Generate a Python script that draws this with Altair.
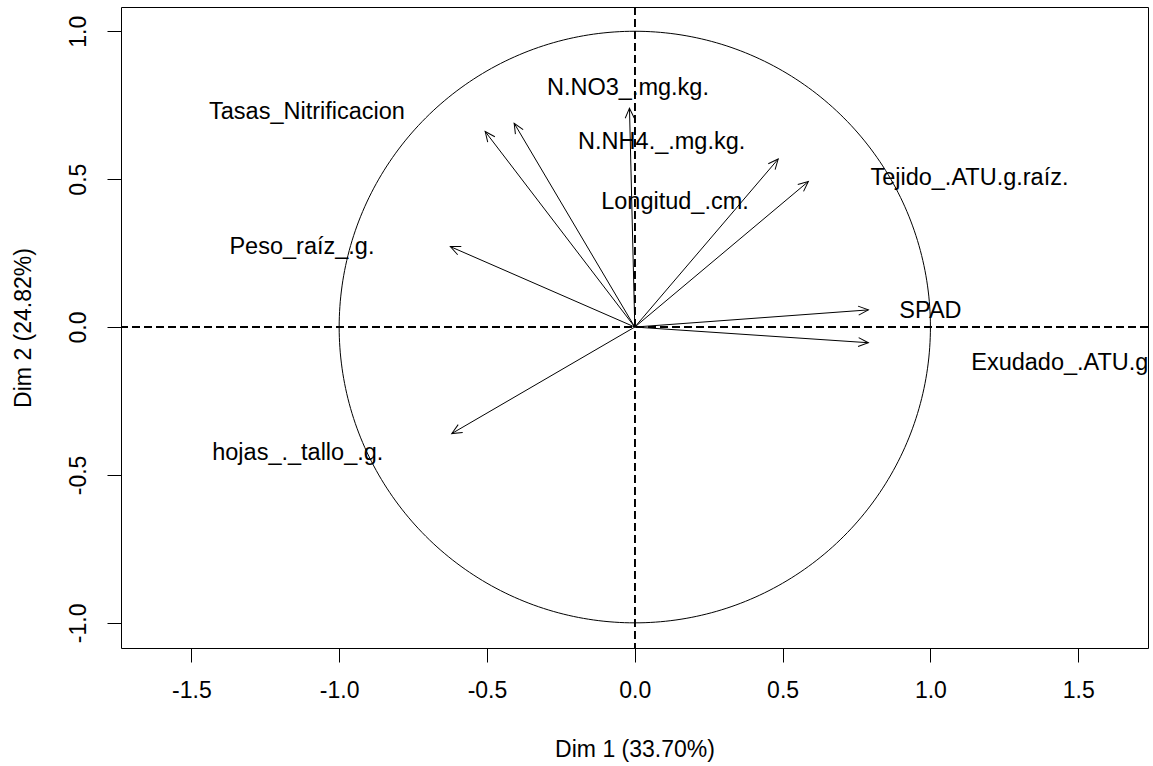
import altair as alt
import pandas as pd
import numpy as np

# ---- data (PCA variable coordinates) ----
variables = ["N.NO3_.mg.kg.", "Tasas_Nitrificacion", "N.NH4._.mg.kg.", "Longitud_.cm.",
             "Tejido_.ATU.g.raíz.", "SPAD", "Exudado_.ATU.g", "Peso_raíz_.g.", "hojas_._tallo_.g."]
dim1 = [-0.018, -0.506, -0.408, 0.485, 0.587, 0.790, 0.790, -0.624, -0.619]
dim2 = [0.740, 0.661, 0.689, 0.568, 0.492, 0.058, -0.053, 0.272, -0.360]
label_x = [-0.023, -1.109, 0.091, 0.136, 1.132, 1.000, 1.138, -1.126, -1.140]
label_y = [0.809, 0.728, 0.626, 0.423, 0.504, 0.055, -0.120, 0.271, -0.426]
label_left = [False, False, False, False, False, False, True, False, False]

x_ticks = [-1.5, -1.0, -0.5, 0.0, 0.5, 1.0, 1.5]
y_ticks = [-1.0, -0.5, 0.0, 0.5, 1.0]
x_title = "Dim 1 (33.70%)"
y_title = "Dim 2 (24.82%)"

XDOM = [-1.738, 1.736]
YDOM = [-1.085, 1.082]
W, H = 1027, 641
FONT = "Liberation Sans"
FS = 23
LFS = 23.5

sx = W / (XDOM[1] - XDOM[0])
sy = H / (YDOM[1] - YDOM[0])

df = pd.DataFrame({"var": variables, "x": dim1, "y": dim2,
                   "lx": label_x, "ly": label_y, "left": label_left})
df["ox"] = 0.0
df["oy"] = 0.0
df["ang"] = (np.degrees(np.arctan2(-df["y"] * sy, df["x"] * sx)) + 360) % 360

t = np.linspace(0, 2 * np.pi, 361)
circle = pd.DataFrame({"cx": np.cos(t), "cy": np.sin(t), "i": np.arange(len(t))})

xs = alt.Scale(domain=XDOM, nice=False, zero=False)
ys = alt.Scale(domain=YDOM, nice=False, zero=False)

label_expr = "replace(format(datum.value, '.1f'), '\u2212', '-')"

x_axis = alt.Axis(values=x_ticks, labelExpr=label_expr, title=x_title, grid=False, domain=False,
                  tickSize=14, tickColor="black", tickWidth=1, labelPadding=17,
                  labelFont=FONT, labelFontSize=FS, labelColor="black",
                  titleFont=FONT, titleFontSize=FS, titleFontWeight="normal", titleColor="black",
                  titleY=101, titleBaseline="middle")
y_axis = alt.Axis(values=y_ticks, labelExpr=label_expr, title=y_title, grid=False, domain=False,
                  tickSize=14, tickColor="black", tickWidth=1, labelPadding=17,
                  labelAngle=-90, labelAlign="center", labelBaseline="bottom",
                  labelFont=FONT, labelFontSize=FS, labelColor="black",
                  titleFont=FONT, titleFontSize=FS, titleFontWeight="normal", titleColor="black",
                  titleX=-98, titleBaseline="middle")

circ = alt.Chart(circle).mark_line(color="black", strokeWidth=1).encode(
    x=alt.X("cx:Q", scale=xs, axis=x_axis),
    y=alt.Y("cy:Q", scale=ys, axis=y_axis),
    order="i:Q",
)

vline = alt.Chart(df).mark_rule(color="black", strokeWidth=1, strokeDash=[8, 4]).encode(
    x=alt.datum(0.0, scale=xs))
hline = alt.Chart(df).mark_rule(color="black", strokeWidth=1, strokeDash=[8, 4]).encode(
    y=alt.datum(0.0, scale=ys))

shafts = alt.Chart(df).mark_rule(color="black", strokeWidth=1).encode(
    x=alt.X("ox:Q", scale=xs), y=alt.Y("oy:Q", scale=ys), x2="x:Q", y2="y:Q")

heads = alt.Chart(df).mark_point(
    shape="M -1 -0.45 L 0 0 L -1 0.45", filled=False, color="black", strokeWidth=1,
    size=400, opacity=1).encode(
    x=alt.X("x:Q", scale=xs), y=alt.Y("y:Q", scale=ys),
    angle=alt.Angle("ang:Q", scale=None))

labels_c = alt.Chart(df).transform_filter("!datum.left").mark_text(
    font=FONT, fontSize=LFS, color="black", align="center", baseline="middle").encode(
    x=alt.X("lx:Q", scale=xs), y=alt.Y("ly:Q", scale=ys), text="var:N")
labels_l = alt.Chart(df).transform_filter("datum.left").mark_text(
    font=FONT, fontSize=LFS, color="black", align="left", baseline="middle").encode(
    x=alt.X("lx:Q", scale=xs), y=alt.Y("ly:Q", scale=ys), text="var:N")

chart = alt.layer(circ, vline, hline, shafts, heads, labels_c, labels_l).properties(
    width=W, height=H,
    autosize=alt.AutoSizeParams(type="none"),
    padding={"left": 121, "top": 7, "right": 5, "bottom": 118},
    background="white",
).configure_view(stroke="black", strokeWidth=1)

chart.save("out.html", embed_options={"renderer": "svg", "actions": False})
